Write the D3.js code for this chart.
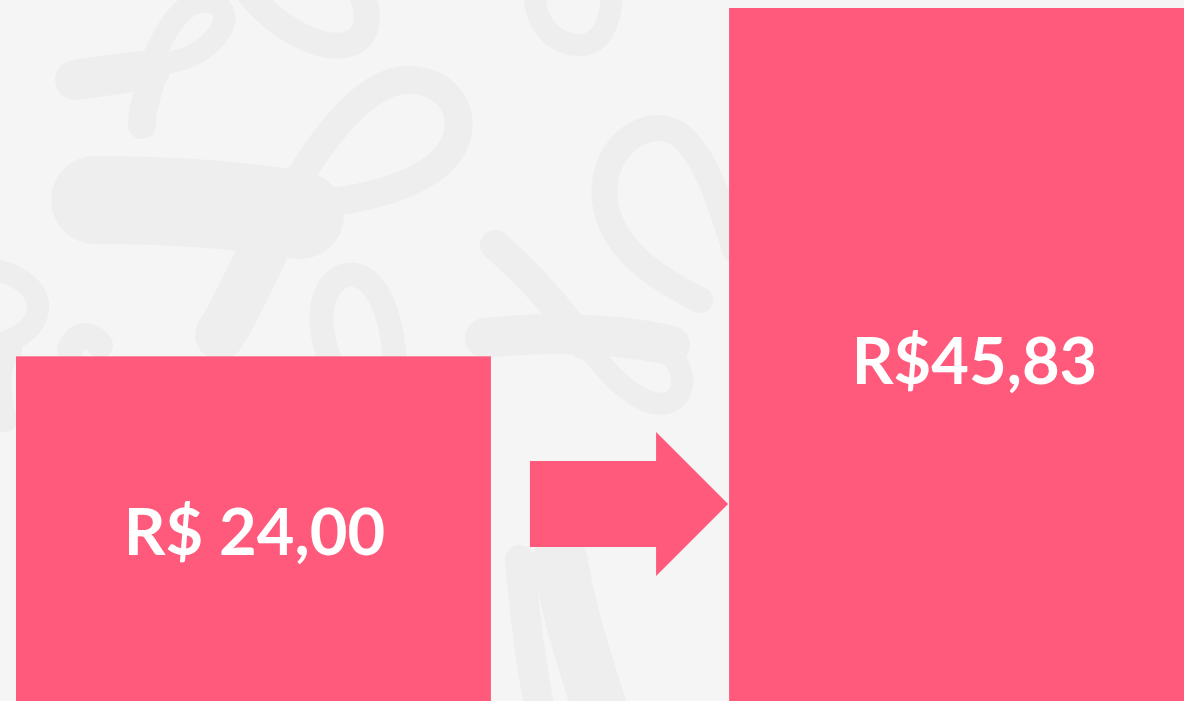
<!DOCTYPE html>
<html>
<head>
<meta charset="utf-8">
<script src="https://cdn.jsdelivr.net/npm/d3@7"></script>
<style>
  html, body { margin: 0; padding: 0; background: #f5f5f5; overflow: hidden; }
  svg { display: block; }
</style>
</head>
<body>
<svg id="chart" width="1184" height="701"></svg>
<script>
// ---- data ----
const categories = ["Antes", "Depois"];
const values = [24.00, 45.83];
const labels = ["R$ 24,00", "R$45,83"];

// ---- setup ----
const W = 1184, H = 701;
const svg = d3.select("#chart");
const pink = "#ff597c";

svg.append("rect").attr("width", W).attr("height", H).attr("fill", "#f5f5f5");

// faint decorative ribbons in the background
const deco = svg.append("g").attr("fill", "none").attr("stroke", "#eeeeee")
  .attr("stroke-linecap", "round").attr("stroke-linejoin", "round");
const strokes = [
  // big ribbon
  ["M 292 190 C 330 125 370 82 405 80 C 445 78 468 110 455 142 C 440 178 380 200 300 205", 28],
  ["M 95 200 C 180 200 240 205 300 215", 88],
  ["M 268 240 C 250 280 235 310 220 335", 50],
  // small top-left ribbon
  ["M 150 65 C 165 30 180 5 200 2 C 225 0 232 20 215 38 C 195 60 175 62 150 65", 22],
  ["M 75 80 C 110 75 130 72 150 70", 40],
  ["M 150 85 C 145 100 142 112 142 125", 28],
  // top-middle loop
  ["M 250 -5 C 280 30 320 50 345 45 C 370 40 370 15 362 -5", 26],
  // top right loop behind
  ["M 535 -5 C 535 25 555 45 580 45 C 600 45 610 25 612 -5", 22],
  // ribbon near arrow
  ["M 700 300 C 660 280 610 250 605 200 C 600 150 640 120 670 130 C 700 140 720 200 735 250", 26],
  ["M 495 245 C 530 275 560 310 585 345", 30],
  ["M 485 338 C 560 330 620 335 670 345", 40],
  ["M 590 350 C 620 390 650 410 670 402 C 690 392 685 360 660 348", 22],
  // lower-left loop
  ["M 330 360 C 315 320 320 285 345 275 C 370 270 390 300 395 360", 24],
  ["M 70 350 C 75 335 90 330 100 345", 26],
  // left edge loop
  ["M -5 270 C 20 275 40 290 38 310 C 35 330 15 340 -5 345", 22],
  ["M 5 420 C -5 380 0 360 10 350", 24],
  // tall faint tail below arrow
  ["M 560 560 C 570 620 585 660 600 710", 55],
  ["M 520 560 C 525 620 530 660 540 710", 30]
];
deco.selectAll("path").data(strokes).join("path")
  .attr("d", d => d[0]).attr("stroke-width", d => d[1]);

// ---- scales ----
const x = d3.scaleBand().domain(categories).range([16, 1204]).paddingInner(0.334).paddingOuter(0);
const y = d3.scaleLinear().domain([2.4, 45.83]).range([H, 8]);

// ---- bars ----
svg.selectAll("rect.bar").data(values).join("rect")
  .attr("class", "bar")
  .attr("x", (d, i) => x(categories[i]))
  .attr("y", d => y(d))
  .attr("width", x.bandwidth())
  .attr("height", d => H - y(d))
  .attr("fill", pink);

// ---- arrow between bars ----
const a0 = x(categories[0]) + x.bandwidth() + 39;
const a1 = x(categories[1]) - 1;
const aMid = 504;
const shaftH = 43, headH = 72, headW = 72;
const arrow = d3.path();
arrow.moveTo(a0, aMid - shaftH);
arrow.lineTo(a1 - headW, aMid - shaftH);
arrow.lineTo(a1 - headW, aMid - headH);
arrow.lineTo(a1, aMid);
arrow.lineTo(a1 - headW, aMid + headH);
arrow.lineTo(a1 - headW, aMid + shaftH);
arrow.lineTo(a0, aMid + shaftH);
arrow.closePath();
svg.append("path").attr("d", arrow.toString()).attr("fill", pink);

// ---- labels ----
const labelOffsets = [[1, 26], [18, 29]];
svg.selectAll("text.lbl").data(values).join("text")
  .attr("class", "lbl")
  .attr("x", (d, i) => x(categories[i]) + (i === 0 ? x.bandwidth() : (W - x(categories[i]))) / 2 + labelOffsets[i][0])
  .attr("y", (d, i) => (y(d) + H) / 2 + labelOffsets[i][1])
  .attr("text-anchor", "middle")
  .attr("font-family", "Lato, 'Open Sans', sans-serif")
  .attr("font-weight", 700)
  .attr("font-size", 65)
  .attr("fill", "#ffffff")
  .text((d, i) => labels[i]);
</script>
</body>
</html>
